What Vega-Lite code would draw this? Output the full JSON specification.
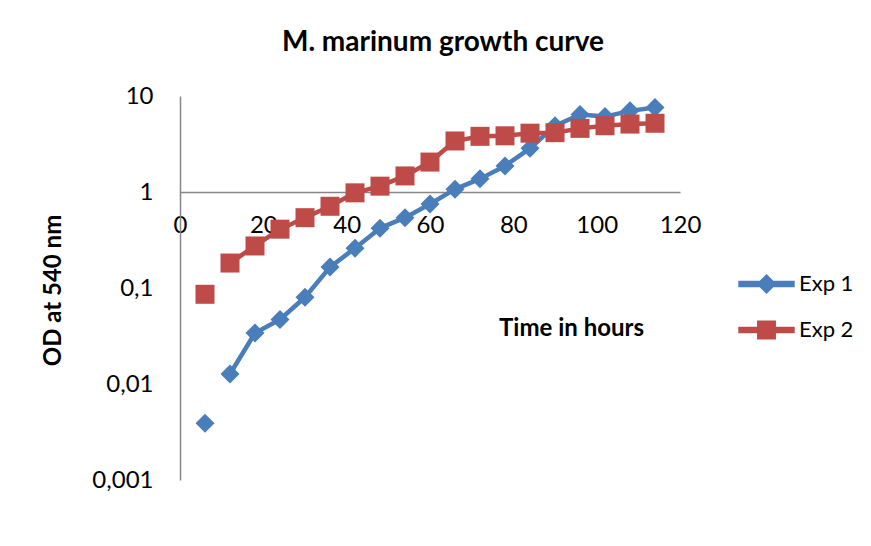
{
  "$schema": "https://vega.github.io/schema/vega-lite/v6.json",
  "width": 500,
  "height": 384,
  "autosize": {"type": "none"},
  "padding": {"left": 180, "top": 96, "right": 191, "bottom": 66},
  "background": "white",
  "config": {
    "view": {"stroke": null},
    "font": "Lato"
  },
  "title": {
    "text": "M. marinum growth curve",
    "font": "Lato",
    "fontSize": 28,
    "fontWeight": "bold",
    "color": "black",
    "anchor": "middle",
    "dx": 13,
    "offset": 27
  },
  "data": {
    "values": [
      {"time": 6, "series": "Exp 1", "od": 0.0039},
      {"time": 12, "series": "Exp 1", "od": 0.0127},
      {"time": 18, "series": "Exp 1", "od": 0.034},
      {"time": 24, "series": "Exp 1", "od": 0.047},
      {"time": 30, "series": "Exp 1", "od": 0.08},
      {"time": 36, "series": "Exp 1", "od": 0.165},
      {"time": 42, "series": "Exp 1", "od": 0.26},
      {"time": 48, "series": "Exp 1", "od": 0.42},
      {"time": 54, "series": "Exp 1", "od": 0.54},
      {"time": 60, "series": "Exp 1", "od": 0.75},
      {"time": 66, "series": "Exp 1", "od": 1.07},
      {"time": 72, "series": "Exp 1", "od": 1.37},
      {"time": 78, "series": "Exp 1", "od": 1.87},
      {"time": 84, "series": "Exp 1", "od": 2.85},
      {"time": 90, "series": "Exp 1", "od": 4.9},
      {"time": 96, "series": "Exp 1", "od": 6.4},
      {"time": 102, "series": "Exp 1", "od": 6.1},
      {"time": 108, "series": "Exp 1", "od": 7.0},
      {"time": 114, "series": "Exp 1", "od": 7.6},
      {"time": 6, "series": "Exp 2", "od": 0.086},
      {"time": 12, "series": "Exp 2", "od": 0.182},
      {"time": 18, "series": "Exp 2", "od": 0.274},
      {"time": 24, "series": "Exp 2", "od": 0.41},
      {"time": 30, "series": "Exp 2", "od": 0.54},
      {"time": 36, "series": "Exp 2", "od": 0.71},
      {"time": 42, "series": "Exp 2", "od": 0.98},
      {"time": 48, "series": "Exp 2", "od": 1.15},
      {"time": 54, "series": "Exp 2", "od": 1.47},
      {"time": 60, "series": "Exp 2", "od": 2.05},
      {"time": 66, "series": "Exp 2", "od": 3.4},
      {"time": 72, "series": "Exp 2", "od": 3.8},
      {"time": 78, "series": "Exp 2", "od": 3.85},
      {"time": 84, "series": "Exp 2", "od": 4.1},
      {"time": 90, "series": "Exp 2", "od": 4.15},
      {"time": 96, "series": "Exp 2", "od": 4.6},
      {"time": 102, "series": "Exp 2", "od": 4.9},
      {"time": 108, "series": "Exp 2", "od": 5.1},
      {"time": 114, "series": "Exp 2", "od": 5.2}
    ]
  },
  "encoding": {
    "x": {
      "field": "time",
      "type": "quantitative",
      "scale": {"domain": [0, 120], "nice": false, "zero": false},
      "axis": {
        "values": [0, 20, 40, 60, 80, 100, 120],
        "offset": -288,
        "grid": false,
        "ticks": false,
        "tickSize": 0,
        "labelFlush": false,
        "labelOverlap": false,
        "domainColor": "#868686",
        "domainWidth": 1.5,
        "labelFontSize": 24,
        "labelColor": "black",
        "labelPadding": 21,
        "labelFont": "Lato",
        "title": "Time in hours",
        "titleFont": "Lato",
        "titleFontSize": 24,
        "titleFontWeight": "bold",
        "titleColor": "black",
        "titleX": 391,
        "titleY": 136,
        "titleAnchor": "middle",
        "titleBaseline": "middle",
        "titleAlign": "center"
      }
    },
    "y": {
      "field": "od",
      "type": "quantitative",
      "scale": {"type": "log", "domain": [0.001, 10], "nice": false},
      "axis": {
        "values": [0.001, 0.01, 0.1, 1, 10],
        "labelExpr": "replace(toString(datum.value), '.', ',')",
        "grid": false,
        "ticks": false,
        "tickSize": 0,
        "labelFlush": false,
        "labelOverlap": false,
        "domainColor": "#868686",
        "domainWidth": 1.5,
        "labelFontSize": 24,
        "labelColor": "black",
        "labelPadding": 27,
        "labelFont": "Lato",
        "labelBaseline": "middle",
        "title": "OD at 540 nm",
        "titleFont": "Lato",
        "titleFontSize": 24,
        "titleFontWeight": "bold",
        "titleColor": "black",
        "titleX": -127,
        "titleY": 194,
        "titleAngle": -90,
        "titleAlign": "center",
        "titleBaseline": "middle"
      }
    },
    "color": {
      "field": "series",
      "type": "nominal",
      "scale": {"domain": ["Exp 1", "Exp 2"], "range": ["#4A7EBB", "#BE4B48"]},
      "legend": {
        "orient": "none",
        "legendX": 570.5,
        "legendY": 172,
        "title": null,
        "padding": 0,
        "symbolSize": 900,
        "rowPadding": 18,
        "labelOffset": 16.5,
        "labelFontSize": 22,
        "labelFont": "Lato",
        "labelColor": "black",
        "symbolOpacity": 1,
        "encode": {
          "symbols": {
            "update": {
              "fill": {"signal": "datum.value === 'Exp 1' ? '#4A7EBB' : '#BE4B48'"},
              "stroke": {"value": "transparent"},
              "opacity": {"value": 1},
              "fillOpacity": {"value": 1}
            }
          }
        }
      }
    }
  },
  "layer": [
    {
      "transform": [{"filter": "datum.time > 6"}],
      "mark": {"type": "line", "strokeWidth": 4.5, "strokeJoin": "round", "strokeCap": "round"}
    },
    {
      "transform": [{"filter": "datum.series === 'Exp 1'"}],
      "mark": {"type": "point", "filled": true, "opacity": 1, "size": 361, "shape": "diamond"}
    },
    {
      "transform": [{"filter": "datum.series === 'Exp 2'"}],
      "mark": {"type": "point", "filled": true, "opacity": 1, "size": 361, "shape": "square"}
    },
    {
      "mark": {"type": "point", "filled": true, "opacity": 0, "size": 900},
      "encoding": {
        "shape": {
          "field": "series",
          "type": "nominal",
          "scale": {
            "domain": ["Exp 1", "Exp 2"],
            "range": [
              "M-1.83,-0.16H1.83V0.16H-1.83ZM0,-0.6L0.6,0L0,0.6L-0.6,0Z",
              "M-1.83,-0.16H1.83V0.16H-1.83ZM-0.58,-0.58H0.58V0.58H-0.58Z"
            ]
          },
          "legend": null
        }
      }
    }
  ]
}
